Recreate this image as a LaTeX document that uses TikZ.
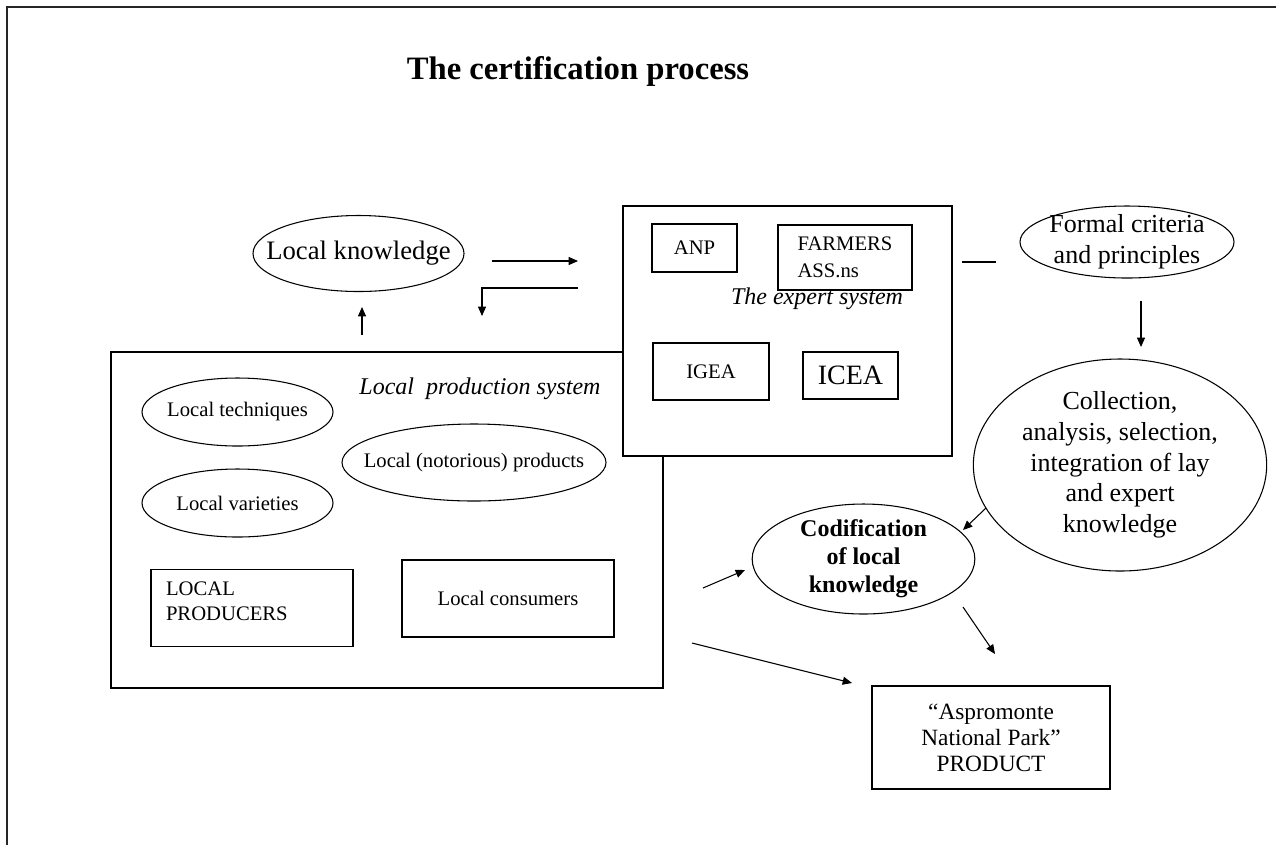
\documentclass[tikz,border=0pt]{standalone}
\usepackage{fontspec}
\setmainfont{Liberation Serif}
\usetikzlibrary{arrows.meta,shapes.geometric}
\tikzset{
  boxnode/.style={draw, rectangle, inner sep=0pt, line width=0.8pt, fill=white, align=center, font=\fontsize{15.5}{19}\selectfont},
  ovalnode/.style={draw, ellipse, inner xsep=-15pt, inner ysep=-15pt, line width=0.8pt, fill=white, align=center, font=\fontsize{15.5}{19}\selectfont},
  bigoval/.style={ovalnode, font=\fontsize{19.5}{23}\selectfont},
  labeltext/.style={inner sep=0pt, font=\fontsize{18}{21}\selectfont\itshape},
  arr/.style={-{Triangle[length=7pt,width=6pt]}, line width=0.8pt},
  plainline/.style={line width=0.8pt},
  frameline/.style={line width=1.6pt, draw=black!85}
}
\begin{document}
\begin{tikzpicture}[x=0.75pt,y=-0.75pt]
\useasboundingbox (0,0) rectangle (1276,844);
% outer frame (clipped at right and bottom)
\draw[frameline] (1290,7) -- (7,7) -- (7,860);

% title
\node[inner sep=0pt, font=\fontsize{24.5}{28}\selectfont\bfseries] (title) at (578,71) {The certification process};

% local production system
\node[boxnode, minimum width=414pt, minimum height=252pt] (lps) at (387,520) {};
\node[labeltext] (lpslabel) at (480,389) {Local\ \ production system};
\node[ovalnode, minimum width=143.25pt, minimum height=51pt] (tech) at (237.5,412) {Local techniques};
\node[ovalnode, minimum width=198pt, minimum height=57.75pt] (prod) at (474,462.5) {Local (notorious) products};
\node[ovalnode, minimum width=143.25pt, minimum height=51pt] (var) at (237.5,503) {Local varieties};
\node[boxnode, minimum width=151.5pt, minimum height=57.75pt, text width=129pt, align=left, inner xsep=11.25pt, inner ysep=0pt] (producers) at (252,608) {LOCAL\\PRODUCERS\\[-9pt]\mbox{}};
\node[boxnode, minimum width=159pt, minimum height=57.75pt] (consumers) at (508,598.5) {Local consumers};

% expert system
\node[boxnode, minimum width=246.75pt, minimum height=187.5pt] (expert) at (787.5,331) {};
\node[boxnode, minimum width=63.75pt, minimum height=36pt] (anp) at (694.5,248) {ANP};
\node[boxnode, minimum width=100.5pt, minimum height=48.75pt, line width=1.3pt, align=left, font=\fontsize{15.5}{20}\selectfont] (farmers) at (845,257.5) {FARMERS\\ASS.ns};
\node[labeltext] (explabel) at (817,299) {The expert system};
\node[boxnode, minimum width=87pt, minimum height=42.75pt] (igea) at (711,371.5) {IGEA};
\node[boxnode, minimum width=71.25pt, minimum height=35.25pt, font=\fontsize{21}{24}\selectfont] (icea) at (850.5,375.5) {ICEA};

% local knowledge
\node[ovalnode, minimum width=158.25pt, minimum height=57pt, font=\fontsize{20}{23}\selectfont] (lk) at (358.5,253.5) {Local knowledge};

% right side
\node[bigoval, minimum width=160.5pt, minimum height=54pt] (formal) at (1127,242) {Formal criteria\\and principles};
\node[bigoval, minimum width=220pt, minimum height=159pt] (coll) at (1120,465) {Collection,\\analysis, selection,\\integration of lay\\and expert\\knowledge};
\node[ovalnode, minimum width=167pt, minimum height=82.5pt, font=\fontsize{18}{21}\selectfont\bfseries] (cod) at (863.5,559) {Codification\\of local\\knowledge};
\node[boxnode, minimum width=178.5pt, minimum height=77.25pt, font=\fontsize{17.5}{19.5}\selectfont] (product) at (991,737.5) {``Aspromonte\\National Park''\\PRODUCT};

% free connector ends
\coordinate (a1s) at (492,261);
\coordinate (a1e) at (578,261);
\coordinate (a2s) at (578,288);
\coordinate (a2c) at (482,288);
\coordinate (a2e) at (482,316);
\coordinate (a3s) at (362,335);
\coordinate (a3e) at (362,307);
\coordinate (d1s) at (962,262);
\coordinate (d1e) at (996,262);
\coordinate (a4s) at (1141,301);
\coordinate (a4e) at (1141,347);
\coordinate (a5s) at (986,508);
\coordinate (a5e) at (963,530);
\coordinate (a6s) at (703,588);
\coordinate (a6e) at (745,570);
\coordinate (a7s) at (963,607);
\coordinate (a7e) at (995,654);
\coordinate (a8s) at (692,643);
\coordinate (a8e) at (852,683);

\draw[arr] (a1s) -- (a1e);
\draw[arr] (a2s) -- (a2c) -- (a2e);
\draw[arr] (a3s) -- (a3e);
\draw[plainline] (d1s) -- (d1e);
\draw[arr] (a4s) -- (a4e);
\draw[arr] (a5s) -- (a5e);
\draw[arr] (a6s) -- (a6e);
\draw[arr] (a7s) -- (a7e);
\draw[arr] (a8s) -- (a8e);
\end{tikzpicture}
\end{document}
